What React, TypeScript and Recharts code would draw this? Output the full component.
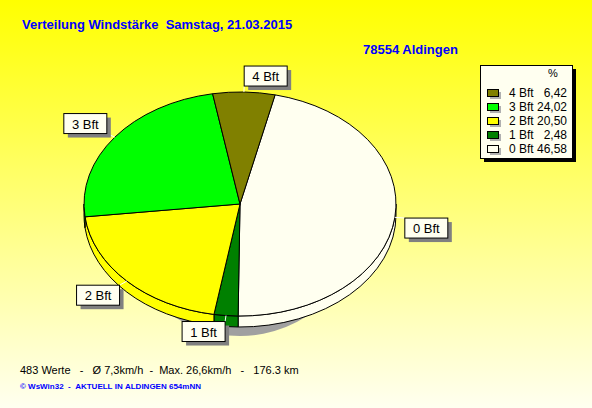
import React from "react";
import { Cell, Legend, Pie, PieChart } from "recharts";

const names = ["0 Bft", "1 Bft", "2 Bft", "3 Bft", "4 Bft"];
const percents = [46.58, 2.48, 20.5, 24.02, 6.42];
const colors = ["#FFFFF0", "#008000", "#FFFF00", "#00FF00", "#808000"];

const title = "Verteilung Windstärke  Samstag, 21.03.2015";
const station = "78554 Aldingen";
const stats = "483 Werte   -   Ø 7,3km/h  -  Max. 26,6km/h   -   176.3 km";
const footer = "© WsWin32  -  AKTUELL IN ALDINGEN 654mNN";

const data = names.map((name, i) => ({ name, value: percents[i], fill: colors[i] }));

const ASPECT = 156 / 112;
const DEPTH = 11;
const FONT = "'Liberation Sans', Arial, sans-serif";
const RAD = Math.PI / 180;

// keep the runs of spaces from the original text
const keep = (s: string) => s.replace(/ /g, "\u00a0");

const pt = (cx: number, cy: number, rx: number, ry: number, a: number, dy = 0) =>
  `${cx + rx * Math.cos(a * RAD)},${cy - ry * Math.sin(a * RAD) + dy}`;

// flattened pie slice with a side wall on the front half
function EllipseSlice(props: any) {
  const { cx, cy, outerRadius, startAngle, endAngle, fill, index } = props;
  const ry = outerRadius;
  const rx = outerRadius * ASPECT;
  const hi = Math.max(startAngle, endAngle);
  const lo = Math.min(startAngle, endAngle);
  const large = hi - lo > 180 ? 1 : 0;

  const sides: string[] = [];
  for (let k = -2; k <= 2; k++) {
    const a = Math.max(lo, -180 + 360 * k);
    const b = Math.min(hi, 360 * k);
    if (b - a > 0.01) {
      sides.push(
        `M${pt(cx, cy, rx, ry, b)} A${rx},${ry} 0 0 1 ${pt(cx, cy, rx, ry, a)} ` +
          `L${pt(cx, cy, rx, ry, a, DEPTH)} A${rx},${ry} 0 0 0 ${pt(cx, cy, rx, ry, b, DEPTH)} Z`
      );
    }
  }

  const top =
    `M${cx},${cy} L${pt(cx, cy, rx, ry, hi)} ` +
    `A${rx},${ry} 0 ${large} 1 ${pt(cx, cy, rx, ry, lo)} Z`;

  return (
    <g>
      {index === 0 && (
        <ellipse cx={cx} cy={cy + 15} rx={120} ry={117} fill="#a0a0a0" />
      )}
      {sides.map((d, i) => (
        <path key={i} d={d} fill={fill} stroke="#000" strokeWidth={1} />
      ))}
      <path d={top} fill={fill} stroke="#000" strokeWidth={1} />
    </g>
  );
}

function SliceLabel(props: any) {
  const { cx, cy, midAngle, outerRadius, name } = props;
  const ry = outerRadius;
  const rx = outerRadius * ASPECT;
  const c = Math.cos(midAngle * RAD);
  const s = Math.sin(midAngle * RAD);
  const ex = cx + rx * c;
  const ey = cy - ry * s;
  const ax = cx + (rx + 10) * c;
  const ay = cy - (ry + 6) * s;
  const w = 43;
  const h = 20;
  const bx = c >= 0 ? ax : ax - w;
  const by = s >= 0 ? ay - h : ay;
  return (
    <g>
      <line x1={ex} y1={ey} x2={ax} y2={ay} stroke="#fff" strokeWidth={1} />
      <rect x={bx + 4} y={by + 4} width={w} height={h} fill="#808080" />
      <rect x={bx} y={by} width={w} height={h} fill="#FFFFF0" stroke="#000" strokeWidth={1} />
      <text
        x={bx + w / 2}
        y={by + 15}
        textAnchor="middle"
        fontFamily={FONT}
        fontSize={13}
        fill="#000"
      >
        {name}
      </text>
    </g>
  );
}

function LegendBox(props: any) {
  const items = [...(props.payload ?? [])].reverse();
  return (
    <svg width={100} height={100} style={{ display: "block" }}>
      <rect x={4} y={4} width={92} height={93} fill="#000" />
      <rect x={0.5} y={0.5} width={92} height={93} fill="#FFFFF0" stroke="#000" />
      <text x={68} y={12} fontFamily={FONT} fontSize={11} fill="#000">
        %
      </text>
      {items.map((item: any, i: number) => {
        const idx = names.indexOf(item.value);
        const y = 24 + i * 14;
        return (
          <g key={item.value}>
            <rect x={10} y={y + 3} width={11} height={7} fill="#b0b0b0" />
            <rect x={7.5} y={y + 0.5} width={11} height={7} fill={colors[idx]} stroke="#000" />
            <text x={29} y={y + 8} fontFamily={FONT} fontSize={12} fill="#000">
              {names[idx]}
            </text>
            <text x={87} y={y + 8} textAnchor="end" fontFamily={FONT} fontSize={12} fill="#000">
              {percents[idx].toFixed(2).replace(".", ",")}
            </text>
          </g>
        );
      })}
    </svg>
  );
}

export default function App() {
  return (
    <div
      style={{
        position: "absolute",
        left: 0,
        top: 0,
        width: 592,
        height: 408,
        background: "linear-gradient(to bottom, #FFFF00 0%, #FFFFF0 100%)",
      }}
    >
      <PieChart width={592} height={408} margin={{ top: 0, right: 0, bottom: 0, left: 0 }}>
        <Pie
          data={data}
          dataKey="value"
          nameKey="name"
          cx={240}
          cy={204}
          outerRadius={112}
          startAngle={77}
          endAngle={-283}
          shape={EllipseSlice}
          label={SliceLabel}
          labelLine={false}
          isAnimationActive={false}
        >
          {data.map((d) => (
            <Cell key={d.name} fill={d.fill} />
          ))}
        </Pie>
        <Legend
          content={LegendBox}
          wrapperStyle={{ position: "absolute", left: 480, top: 65, width: 100, height: 100 }}
        />
      </PieChart>
      <svg
        width={592}
        height={408}
        style={{ position: "absolute", left: 0, top: 0, pointerEvents: "none" }}
      >
        <text x={22} y={29} fontFamily={FONT} fontWeight="bold" fontSize={13} fill="#0000FF">
          {keep(title)}
        </text>
        <text x={363} y={54} fontFamily={FONT} fontWeight="bold" fontSize={13} fill="#0000FF">
          {station}
        </text>
        <text x={20} y={374} fontFamily={FONT} fontSize={11} fill="#000">
          {keep(stats)}
        </text>
        <text x={20} y={389} fontFamily={FONT} fontWeight="bold" fontSize={8} fill="#0000FF">
          {keep(footer)}
        </text>
      </svg>
    </div>
  );
}
